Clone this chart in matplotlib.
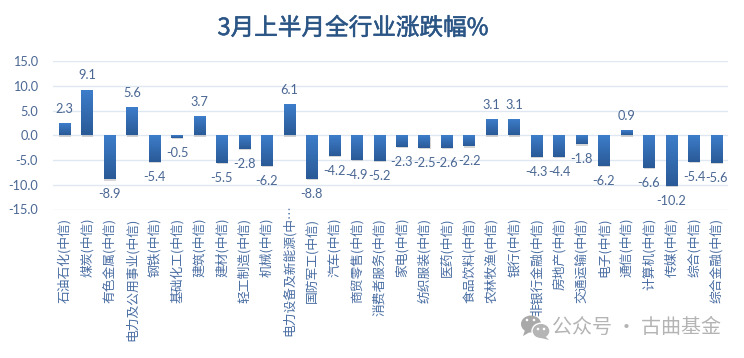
import numpy as np
import matplotlib
matplotlib.use("Agg")
import matplotlib.pyplot as plt
import matplotlib.patheffects as pe
from matplotlib.colors import LinearSegmentedColormap
from matplotlib.patches import Ellipse, Polygon
from matplotlib.transforms import ScaledTranslation

# ---------- Data ----------
CATEGORIES = [
    "石油石化(中信)", "煤炭(中信)", "有色金属(中信)", "电力及公用事业(中信)", "钢铁(中信)",
    "基础化工(中信)", "建筑(中信)", "建材(中信)", "轻工制造(中信)", "机械(中信)",
    "电力设备及新能源(中…", "国防军工(中信)", "汽车(中信)", "商贸零售(中信)", "消费者服务(中信)",
    "家电(中信)", "纺织服装(中信)", "医药(中信)", "食品饮料(中信)", "农林牧渔(中信)",
    "银行(中信)", "非银行金融(中信)", "房地产(中信)", "交通运输(中信)", "电子(中信)",
    "通信(中信)", "计算机(中信)", "传媒(中信)", "综合(中信)", "综合金融(中信)",
]
VALUES = [
    2.3, 9.1, -8.9, 5.6, -5.4, -0.5, 3.7, -5.5, -2.8, -6.2,
    6.1, -8.8, -4.2, -4.9, -5.2, -2.3, -2.5, -2.6, -2.2, 3.1,
    3.1, -4.3, -4.4, -1.8, -6.2, 0.9, -6.6, -10.2, -5.4, -5.6,
]
Y_TICKS = [-15, -10, -5, 0, 5, 10, 15]

# ---------- Style ----------
W, H = 744, 358
LATIN = "Lato"
CJK = "Noto Sans CJK SC"
TEXT_COLOR = "#4a6793"
CAT_COLOR = "#4a6ea3"
GRID_COLOR = "#dfe8f2"
BAR_CMAP = LinearSegmentedColormap.from_list("bar", ["#3d7dca", "#2a5a97"])
plt.rcParams["font.family"] = [LATIN, CJK, "DejaVu Sans"]

fig = plt.figure(figsize=(W / 100, H / 100), dpi=100)
ax = fig.add_axes([53.3 / W, 1 - 209.5 / H, (727.7 - 53.3) / W, (209.5 - 61.3) / H])
x = np.arange(len(VALUES))

bars = ax.bar(x, VALUES, width=0.51, color="#33689f", zorder=2)
gradient = np.linspace(0, 1, 64).reshape(-1, 1)
for bar in bars:
    bar.set_path_effects([pe.SimplePatchShadow(offset=(0.4, -0.9), shadow_rgbFace="#8a8a8a", alpha=0.35), pe.Normal()])
    x0, y0, w, h = bar.get_x(), bar.get_y(), bar.get_width(), bar.get_height()
    low, high = min(y0, y0 + h), max(y0, y0 + h)
    ax.imshow(gradient, cmap=BAR_CMAP, extent=(x0, x0 + w, low, high), aspect="auto", zorder=2.5)

ax.set_xlim(-0.5, len(VALUES) - 0.5)
ax.set_ylim(-15, 15)
ax.set_yticks(Y_TICKS)
ax.set_yticklabels([f"{v:.1f}" for v in Y_TICKS], fontsize=9.2, color=TEXT_COLOR)
ax.set_xticks(x)
ax.set_xticklabels(CATEGORIES, rotation=90, fontsize=9.2, color=CAT_COLOR, family=[CJK, "DejaVu Sans"], va="top", ha="center")
ax.tick_params(axis="both", length=0)
ax.tick_params(axis="y", pad=11)
ax.tick_params(axis="x", pad=6)
ax.grid(axis="y", color=GRID_COLOR, linewidth=1.0, zorder=0)
ax.set_axisbelow(True)
for spine in ax.spines.values():
    spine.set_visible(False)

# the long label sticks up over the bottom gridline
long_label = ax.get_xticklabels()[10]
long_label.set_transform(long_label.get_transform() + ScaledTranslation(0, 13 / 100, fig.dpi_scale_trans))

for xi, v in zip(x, VALUES):
    ax.annotate(f"{v:.1f}", (xi, v), xytext=(0, 15 if v > 0 else -15), textcoords="offset pixels",
                ha="center", va="center", fontsize=9.2, color=TEXT_COLOR, zorder=4)

# ---------- Title ----------
fig.text(353 / W, 1 - 28.5 / H, "3月上半月全行业涨跌幅%", ha="center", va="center", fontsize=17,
         color="#2a5585", family=[CJK, "DejaVu Sans"],
         path_effects=[pe.withStroke(linewidth=0.4, foreground="#2a5585")])

# ---------- Watermark ----------
overlay = fig.add_axes([0, 0, 1, 1], zorder=5)
overlay.set_xlim(0, W)
overlay.set_ylim(H, 0)
overlay.axis("off")
overlay.patch.set_alpha(0)
overlay.add_patch(Ellipse((531, 324), 20, 17, fc="#a9a9a9", ec="none"))
overlay.add_patch(Polygon([(525, 330), (523, 336), (530, 332)], fc="#a9a9a9", ec="none"))
overlay.add_patch(Ellipse((541, 331), 18, 15.5, fc="#b5b5b5", ec="white", lw=1))
overlay.add_patch(Polygon([(545, 336), (549, 340), (541, 338)], fc="#b5b5b5", ec="none"))
for cx, cy in [(527, 320), (534, 320), (538, 329), (544, 329)]:
    overlay.add_patch(Ellipse((cx, cy), 2.6, 2.6, fc="white", ec="none"))
overlay.text(637, 327, "公众号 · 古曲基金", ha="center", va="center", fontsize=14.4, color="#b4b4b4",
             family=[CJK, "DejaVu Sans"])

fig.savefig("out.png", dpi=100)
